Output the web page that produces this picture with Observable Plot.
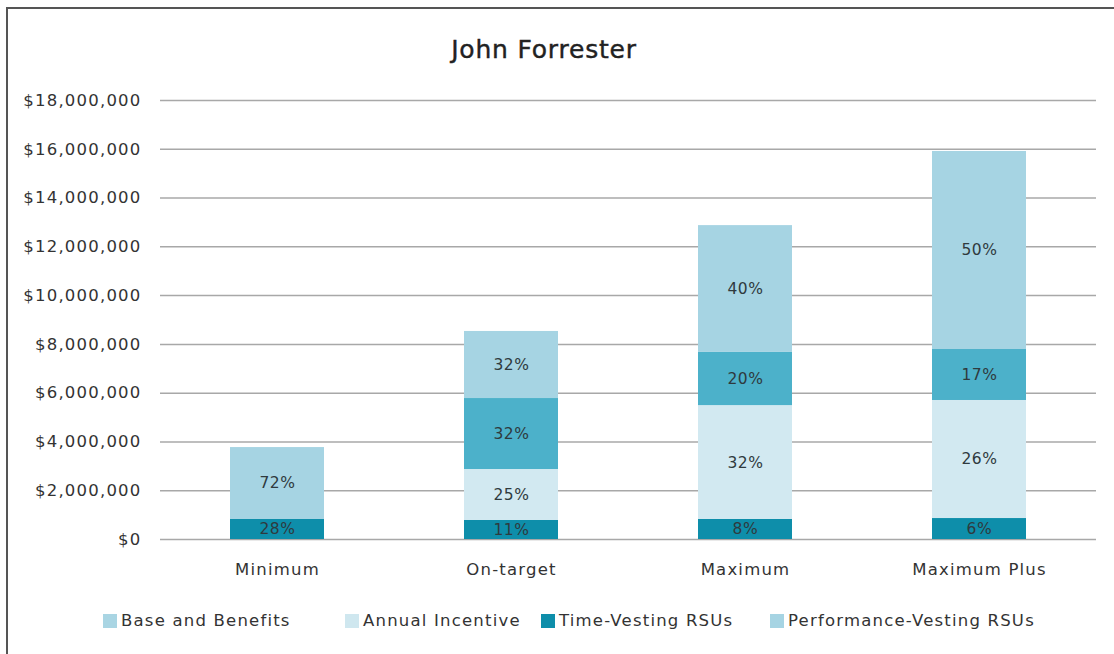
<!DOCTYPE html>
<html><head><meta charset="utf-8">
<script src="https://cdn.jsdelivr.net/npm/d3@7"></script>
<script src="https://cdn.jsdelivr.net/npm/@observablehq/plot@0.6"></script>
<style>
body{margin:0;background:#fff;width:1114px;height:654px;overflow:hidden;position:relative;font-family:"DejaVu Sans",sans-serif;}
#frame{position:absolute;left:6px;top:7px;width:1200px;height:700px;border-left:2px solid #555;border-top:2px solid #555;box-sizing:border-box;}
#title{position:absolute;top:35px;left:0;width:1088px;text-align:center;font-size:25px;letter-spacing:0.8px;color:#222;-webkit-text-stroke:0.4px #222;}
#chart{position:absolute;left:0;top:0;}
#chart svg text{letter-spacing:1.2px;}
#chart svg g.bar-labels text, #chart svg .bar-labels text{letter-spacing:0.6px;}
.item{position:absolute;top:611px;white-space:nowrap;font-size:16.5px;letter-spacing:1.2px;color:#333;display:flex;align-items:center;}
.sw{width:14px;height:14px;margin-right:4px;}
</style>
</head><body>
<div id="frame"></div>
<div id="chart"></div>
<div id="title">John Forrester</div>
<div id="legend"></div>
<script>
const scenarios = ["Minimum", "On-target", "Maximum", "Maximum Plus"];
const components = ["Base and Benefits", "Annual Incentive", "Time-Vesting RSUs", "Performance-Vesting RSUs"];
const baseBenefits    = [820000, 780000, 820000, 860000];
const annualIncentive = [0, 2090000, 4670000, 4840000];
const timeVesting     = [0, 2910000, 2180000, 2090000];
const perfVesting     = [2950000, 2750000, 5200000, 8120000];
const baseLabels   = ["28%", "11%", "8%", "6%"];
const annualLabels = ["", "25%", "32%", "26%"];
const timeLabels   = ["", "32%", "20%", "17%"];
const perfLabels   = ["72%", "32%", "40%", "50%"];
const barColors    = ["#0e8eaa", "#d2e9f1", "#4cb1ca", "#a6d4e3"];
const legendColors = ["#a9d5e3", "#cfe7ef", "#0e8eaa", "#a6d4e3"];
const legendLeft   = [103, 345, 541, 770];
const yTicks = d3.range(0, 18000001, 2000000);

const seriesValues = [baseBenefits, annualIncentive, timeVesting, perfVesting];
const seriesLabels = [baseLabels, annualLabels, timeLabels, perfLabels];
const rows = [];
components.forEach((c, ci) => scenarios.forEach((s, si) => {
  rows.push({scenario: s, component: c, value: seriesValues[ci][si], label: seriesLabels[ci][si]});
}));
const fmt = d => "$" + d3.format(",")(d);

const chart = Plot.plot({
  width: 1114, height: 590,
  marginTop: 100, marginBottom: 51, marginLeft: 160, marginRight: 18,
  style: {fontFamily: "DejaVu Sans, sans-serif", background: "transparent"},
  x: {domain: scenarios, paddingInner: 0.6, paddingOuter: 0.3, label: null},
  y: {domain: [0, 18000000], label: null},
  color: {domain: components, range: barColors},
  marks: [
    Plot.ruleY(yTicks, {stroke: "#a8a8a8", strokeWidth: 1.5}),
    Plot.barY(rows, {x: "scenario", y: "value", fill: "component", order: components}),
    Plot.text(rows.filter(d => d.value > 0), Plot.stackY({x: "scenario", y: "value", z: "component", order: components, text: "label", fill: "#2f3a3e", fontSize: 15.5, className: "bar-labels"})),
    Plot.axisY({ticks: yTicks, tickSize: 0, tickPadding: 19, tickFormat: fmt, fontSize: 16.5, fill: "#333", label: null}),
    Plot.axisX({tickSize: 0, tickPadding: 24, fontSize: 16.5, fill: "#333", label: null})
  ]
});
document.getElementById("chart").appendChild(chart);

const legend = document.getElementById("legend");
components.forEach((c, i) => {
  const item = document.createElement("div");
  item.className = "item";
  item.style.left = legendLeft[i] + "px";
  const sw = document.createElement("span");
  sw.className = "sw";
  sw.style.background = legendColors[i];
  item.appendChild(sw);
  item.appendChild(document.createTextNode(c));
  legend.appendChild(item);
});
</script>
</body></html>
